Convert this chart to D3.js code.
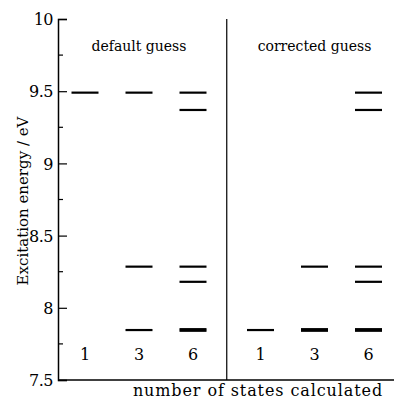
<!DOCTYPE html>
<html lang="en">
<head>
<meta charset="utf-8">
<title>Excitation energies</title>
<style>
	body { margin: 0; background: #fff; }
</style>
</head>
<body>
<svg></svg>
<script src="https://d3js.org/d3.v7.min.js"></script>
<script>
(function() {

	// panels and number of states per column
	var groups = ["default guess", "corrected guess"];
	var states = [1, 3, 6];

	// computed excitation energies (eV), one array per column
	var defaultLevels = [
		[9.49],
		[9.49, 8.285, 7.846],
		[9.49, 9.37, 8.285, 8.18, 7.841, 7.852]
	];
	var correctedLevels = [
		[7.846],
		[8.285, 7.841, 7.852],
		[9.49, 9.37, 8.285, 8.18, 7.841, 7.852]
	];

	var yTicks = [7.5, 8, 8.5, 9, 9.5, 10];
	var yMinor = [7.75, 8.25, 8.75, 9.25, 9.75];

	var width = 394, height = 400;
	var left = 58, top = 19, bottom = 380;
	var serif = "DejaVu Serif";

	var svg = d3.select("svg")
		.attr("width", width)
		.attr("height", height);

	var y = d3.scaleLinear().domain([7.5, 10]).range([bottom, top]);
	// column slots: 0.5, 1.5, 2.5 for the first panel, 3.75.. for the second
	var x = d3.scaleLinear().domain([0, 6]).range([left, left + 6 * 54]);
	var groupOffset = 3.25;

	function colPos(g, i) {
		return x(0.5 + i + g * groupOffset);
	}

	// left axis with inward ticks
	var yAxis = d3.axisLeft(y)
		.tickValues(yTicks)
		.tickSize(-9)
		.tickPadding(5)
		.tickFormat(d3.format("~g"));

	var gy = svg.append("g")
		.attr("transform", "translate(" + left + ",0)")
		.call(yAxis);
	gy.select(".domain").attr("stroke", "#000").attr("stroke-width", 1.5);
	gy.selectAll(".tick line").attr("stroke-width", 1.2);
	gy.selectAll(".tick text")
		.attr("x", -5)
		.attr("font-family", serif)
		.attr("font-size", 16)
		.attr("letter-spacing", -0.5)
		.attr("fill", "#000")
		.attr("dy", "0.35em");

	gy.selectAll(".minor")
		.data(yMinor)
		.enter().append("line")
		.attr("x1", 0).attr("x2", 5)
		.attr("y1", function(d) { return y(d); })
		.attr("y2", function(d) { return y(d); })
		.attr("stroke", "#000")
		.attr("stroke-width", 1.2);

	// bottom axis line
	svg.append("line")
		.attr("x1", left).attr("x2", width)
		.attr("y1", bottom).attr("y2", bottom)
		.attr("stroke", "#000")
		.attr("stroke-width", 1.5);

	// panel divider
	var divX = (colPos(0, 2) + colPos(1, 0)) / 2;
	svg.append("line")
		.attr("x1", divX).attr("x2", divX)
		.attr("y1", top).attr("y2", bottom)
		.attr("stroke", "#000")
		.attr("stroke-width", 1.2);

	var allLevels = [defaultLevels, correctedLevels];
	var half = 13.5;

	allLevels.forEach(function(levels, g) {
		var panel = svg.append("g");

		panel.append("text")
			.attr("x", (colPos(g, 0) + colPos(g, 2)) / 2)
			.attr("y", 51)
			.attr("text-anchor", "middle")
			.attr("font-family", serif)
			.attr("font-size", 14)
			.text(groups[g]);

		levels.forEach(function(col, i) {
			var cx = colPos(g, i);
			panel.selectAll(null)
				.data(col)
				.enter().append("line")
				.attr("x1", cx - half)
				.attr("x2", cx + half)
				.attr("y1", function(d) { return y(d); })
				.attr("y2", function(d) { return y(d); })
				.attr("stroke", "#000")
				.attr("stroke-width", 2.2);

			panel.append("text")
				.attr("x", cx)
				.attr("y", 360)
				.attr("text-anchor", "middle")
				.attr("font-family", serif)
				.attr("font-size", 16)
				.text(states[i]);
		});
	});

	// axis titles
	svg.append("text")
		.attr("transform", "translate(28,201) rotate(-90)")
		.attr("text-anchor", "middle")
		.attr("font-family", serif)
		.attr("font-size", 15)
		.text("Excitation energy / eV");

	svg.append("text")
		.attr("x", 258)
		.attr("y", 396)
		.attr("text-anchor", "middle")
		.attr("font-family", serif)
		.attr("font-size", 16)
		.attr("letter-spacing", 0.9)
		.text("number of states calculated");

})();
</script>
</body>
</html>
